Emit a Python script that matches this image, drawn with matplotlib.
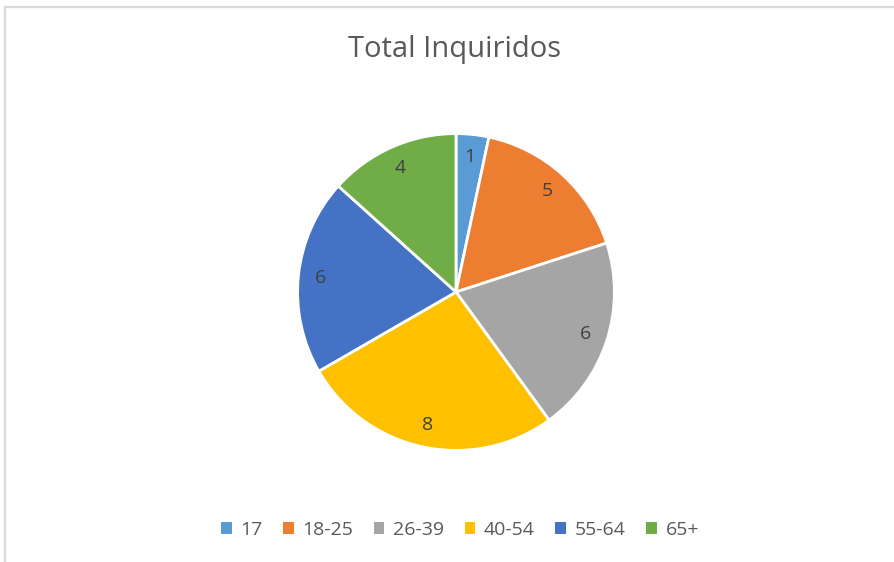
import matplotlib.pyplot as plt
from matplotlib.lines import Line2D
from matplotlib.patches import Patch

# Data
categories = ["17", "18-25", "26-39", "40-54", "55-64", "65+"]
values = [1, 5, 6, 8, 6, 4]
colors = ["#5B9BD5", "#ED7D31", "#A5A5A5", "#FFC000", "#4472C4", "#70AD47"]

plt.rcParams["font.family"] = ["Open Sans", "DejaVu Sans"]
text_color = "#595959"

W, H = 895, 562
fig = plt.figure(figsize=(W / 100, H / 100), dpi=100)
fig.patch.set_facecolor("white")

# chart area border (top and left edges visible)
fig.add_artist(Line2D([5 / W, 5 / W], [0, 1 - 6.5 / H], transform=fig.transFigure,
                      color="#D9D9D9", lw=1.6))
fig.add_artist(Line2D([5 / W, 1], [1 - 6.5 / H, 1 - 6.5 / H], transform=fig.transFigure,
                      color="#D9D9D9", lw=1.6))

# pie axes
cx, cy, r = 456, 292, 160
ax = fig.add_axes([(cx - r) / W, (H - cy - r) / H, 2 * r / W, 2 * r / H])
wedges, texts = ax.pie(
    values,
    colors=colors,
    startangle=90,
    counterclock=False,
    radius=0.99,
    labels=[str(v) for v in values],
    labeldistance=0.86,
    wedgeprops=dict(edgecolor="white", linewidth=2),
    textprops=dict(color="#404040", fontsize=14),
)
for t in texts:
    t.set_horizontalalignment("center")
    t.set_verticalalignment("center")
ax.set_xlim(-1, 1)
ax.set_ylim(-1, 1)
ax.set_aspect("equal")
ax.axis("off")

fig.text(455 / W, 1 - 50 / H, "Total Inquiridos", ha="center", va="center",
         fontsize=21, color=text_color)

handles = [Patch(facecolor=c, edgecolor="none") for c in colors]
fig.legend(handles, categories, loc="center", bbox_to_anchor=(460 / W, 1 - 530 / H),
           ncol=6, frameon=False, fontsize=14, labelcolor=text_color,
           handlelength=0.55, handleheight=0.55, handletextpad=0.45, columnspacing=1.05)

fig.savefig("out.png", dpi=100)
